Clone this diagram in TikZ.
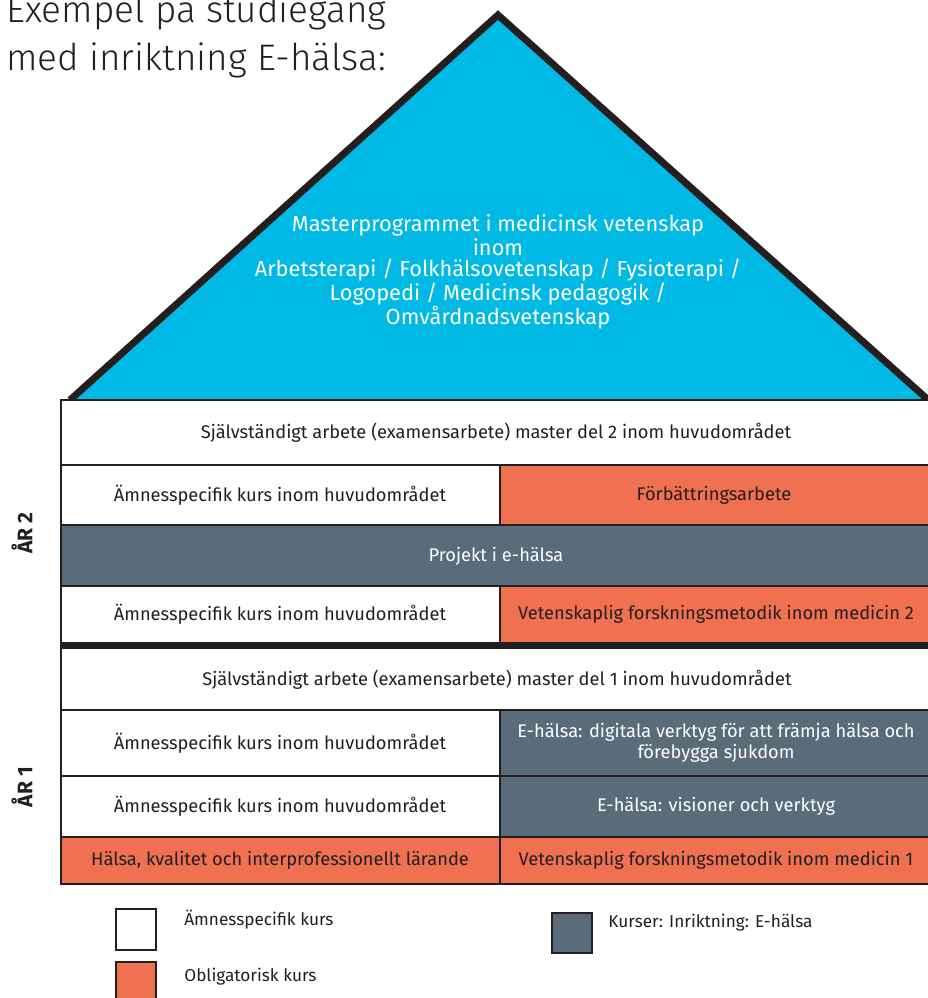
\documentclass[tikz,border=0pt]{standalone}
\usepackage{fontspec}
\setmainfont{Fira Sans}
\newfontfamily\titlefont{Fira Sans Light}

\definecolor{roofblue}{RGB}{0,185,229}
\definecolor{oblig}{RGB}{240,112,82}
\definecolor{ehalsa}{RGB}{90,107,121}
\definecolor{ink}{RGB}{35,31,32}

\tikzset{
	cell/.style={draw=ink, line width=0.8pt},
	celltext/.style={font=\fontsize{10.4}{12}\selectfont, text=ink, align=center, inner sep=0pt},
	darktext/.style={celltext, text=white},
	rooftext/.style={font=\fontsize{12.4}{12}\selectfont, text=white, align=center, inner sep=0pt},
	yeartext/.style={font=\fontsize{12}{14}\selectfont\bfseries, text=ink, rotate=90, inner sep=0pt},
	legendtext/.style={font=\fontsize{9.8}{11}\selectfont, text=ink, anchor=west, inner sep=0pt},
	titletext/.style={font=\titlefont\fontsize{21}{24}\selectfont, text=ink, anchor=base west, inner sep=0pt}
}

\begin{document}
\begin{tikzpicture}[x=0.02cm,y=-0.02cm]
	\useasboundingbox (0,0) rectangle (928,998);
	\clip (0,0) rectangle (928,998);
	
	% title
	\node[titletext] (title1) at (6,22) {Exempel på studiegång};
	\node[titletext] (title2) at (6,70) {med inriktning E-hälsa:};
	
	% roof
	\fill[roofblue] (70,400) -- (498,15) -- (928,400) -- cycle;
	\draw[ink, line width=4pt] (70,400) -- (498,15) -- (935,406);
	\node[rooftext] (roof) at (498,272) {Masterprogrammet i medicinsk vetenskap\\inom\\Arbetsterapi / Folkhälsovetenskap / Fysioterapi /\\Logopedi / Medicinsk pedagogik /\\Omvårdnadsvetenskap};
	
	% year 2
	\filldraw[cell, fill=white] (61,400) rectangle (940,465);
	\filldraw[cell, fill=white] (61,465) rectangle (500,525);
	\filldraw[cell, fill=oblig] (500,465) rectangle (940,525);
	\filldraw[cell, fill=ehalsa] (61,525) rectangle (940,586);
	\filldraw[cell, fill=white] (61,586) rectangle (500,645);
	\filldraw[cell, fill=oblig] (500,586) rectangle (940,645);
	
	\node[celltext] (del2) at (496,433) {Självständigt arbete (examensarbete) master del 2 inom huvudområdet};
	\node[celltext] (amne4) at (280,495) {Ämnesspecifik kurs inom huvudområdet};
	\node[celltext] (forb) at (714,495) {Förbättringsarbete};
	\node[darktext] (projekt) at (496,556) {Projekt i e-hälsa};
	\node[celltext] (amne3) at (280,614) {Ämnesspecifik kurs inom huvudområdet};
	\node[celltext] (metod2) at (716,614) {Vetenskaplig forskningsmetodik inom medicin 2};
	
	% year 1
	\filldraw[cell, fill=white] (61,645) rectangle (940,710);
	\filldraw[cell, fill=white] (61,710) rectangle (500,776);
	\filldraw[cell, fill=ehalsa] (500,710) rectangle (940,776);
	\filldraw[cell, fill=white] (61,776) rectangle (500,837);
	\filldraw[cell, fill=ehalsa] (500,776) rectangle (940,837);
	\filldraw[cell, fill=oblig] (61,837) rectangle (500,884);
	\filldraw[cell, fill=oblig] (500,837) rectangle (940,884);
	
	\node[celltext] (del1) at (497,680) {Självständigt arbete (examensarbete) master del 1 inom huvudområdet};
	\node[celltext] (amne2) at (280,743) {Ämnesspecifik kurs inom huvudområdet};
	\node[darktext] (digital) at (716,743) {E-hälsa: digitala verktyg för att främja hälsa och\\förebygga sjukdom};
	\node[celltext] (amne1) at (280,806) {Ämnesspecifik kurs inom huvudområdet};
	\node[darktext] (vision) at (716,806) {E-hälsa: visioner och verktyg};
	\node[celltext] (halsa) at (280,860) {Hälsa, kvalitet och interprofessionellt lärande};
	\node[celltext] (metod1) at (716,860) {Vetenskaplig forskningsmetodik inom medicin 1};
	
	% year divider
	\draw[ink, line width=4.5pt] (60,645.5) -- (940,645.5);
	
	\node[yeartext] (ar2) at (22,533) {ÅR 2};
	\node[yeartext] (ar1) at (22,787) {ÅR 1};
	
	% legend
	\filldraw[cell, fill=white] (116,909) rectangle (156,950);
	\filldraw[cell, fill=oblig] (116,962) rectangle (156,1010);
	\filldraw[cell, fill=ehalsa] (552,913) rectangle (592,953);
	\node[legendtext] (legamne) at (184,920) {Ämnesspecifik kurs};
	\node[legendtext] (legoblig) at (184,977) {Obligatorisk kurs};
	\node[legendtext] (legehalsa) at (608,923) {Kurser: Inriktning: E-hälsa};
	
\end{tikzpicture}
\end{document}
